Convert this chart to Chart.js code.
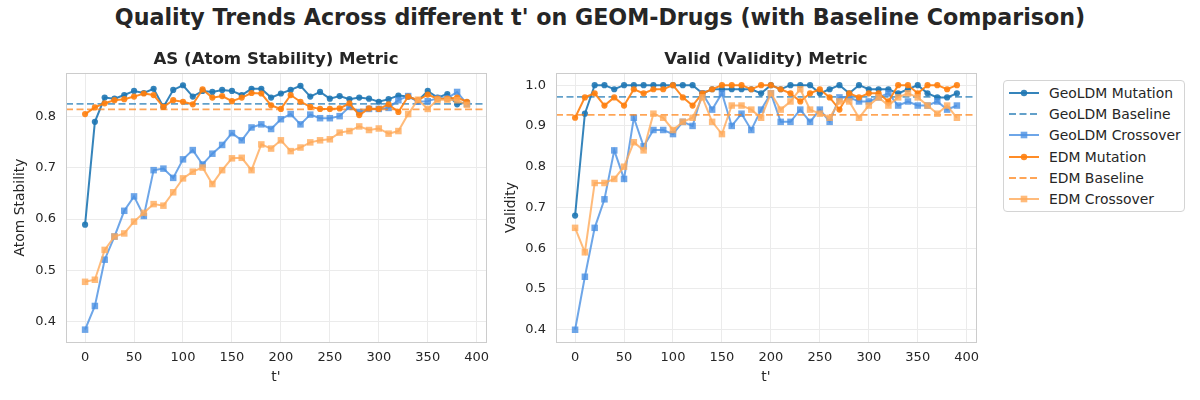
<!DOCTYPE html>
<html>
<head>
<meta charset="utf-8">
<script src="https://cdn.jsdelivr.net/npm/chart.js@4.4.1/dist/chart.umd.min.js"></script>
<style>
  body { margin: 0; background: #fff; width: 1200px; height: 400px; position: relative; overflow: hidden; font-family: 'DejaVu Sans', sans-serif; color: #262626; }
  #title { position: absolute; top: 4px; left: 0; width: 1200px; text-align: center; font: bold 22.2px 'DejaVu Sans'; }
  .box { position: absolute; top: 40px; height: 360px; }
  #legend { position: absolute; left: 1003px; top: 80px; width: 180px; padding: 1px 0; border: 1px solid #d4d4d4; border-radius: 4px; font-size: 13.9px; }
  .row { height: 21.3px; display: flex; align-items: center; }
  .row svg { margin-left: 5px; margin-right: 10px; }
</style>
</head>
<body>
<div id="title">Quality Trends Across different t' on GEOM-Drugs (with Baseline Comparison)</div>
<div class="box" style="left:0;width:500px"><canvas id="asChart"></canvas></div>
<div class="box" style="left:496px;width:494px"><canvas id="validChart"></canvas></div>
<div id="legend"></div>
<script>
// t' values
const tValues = [0, 10, 20, 30, 40, 50, 60, 70, 80, 90, 100, 110, 120, 130, 140, 150, 160, 170, 180, 190,
                 200, 210, 220, 230, 240, 250, 260, 270, 280, 290, 300, 310, 320, 330, 340, 350, 360, 370, 380, 390];

// AS (atom stability)
const geoMutAS = [0.589, 0.789, 0.836, 0.834, 0.841, 0.849, 0.845, 0.853, 0.818, 0.851, 0.860, 0.838, 0.849, 0.847, 0.851, 0.849, 0.841, 0.853, 0.853, 0.836,
                  0.844, 0.851, 0.859, 0.838, 0.847, 0.834, 0.839, 0.833, 0.836, 0.834, 0.828, 0.833, 0.840, 0.838, 0.830, 0.849, 0.836, 0.843, 0.823, 0.827];
const geoCrossAS = [0.385, 0.431, 0.521, 0.566, 0.616, 0.644, 0.606, 0.695, 0.698, 0.680, 0.716, 0.734, 0.706, 0.727, 0.744, 0.767, 0.753, 0.778, 0.784, 0.775,
                    0.794, 0.804, 0.784, 0.803, 0.796, 0.796, 0.800, 0.818, 0.808, 0.814, 0.814, 0.816, 0.831, 0.839, 0.828, 0.829, 0.835, 0.835, 0.847, 0.824];
const edmMutAS = [0.804, 0.817, 0.825, 0.831, 0.833, 0.838, 0.844, 0.841, 0.818, 0.831, 0.828, 0.823, 0.852, 0.836, 0.839, 0.829, 0.836, 0.845, 0.844, 0.821,
                  0.814, 0.841, 0.828, 0.818, 0.814, 0.814, 0.815, 0.825, 0.802, 0.815, 0.814, 0.823, 0.808, 0.838, 0.831, 0.842, 0.834, 0.834, 0.836, 0.828];
const edmCrossAS = [0.478, 0.482, 0.540, 0.566, 0.572, 0.595, 0.612, 0.629, 0.626, 0.652, 0.679, 0.692, 0.700, 0.668, 0.695, 0.718, 0.719, 0.695, 0.745, 0.737,
                    0.753, 0.732, 0.739, 0.749, 0.753, 0.755, 0.768, 0.771, 0.780, 0.773, 0.776, 0.766, 0.771, 0.804, 0.832, 0.814, 0.832, 0.832, 0.831, 0.822];
const geoBaseAS = 0.824;
const edmBaseAS = 0.813;

// Valid (validity)
const geoMutV = [0.68, 0.93, 1.0, 1.0, 0.99, 1.0, 1.0, 1.0, 1.0, 1.0, 1.0, 1.0, 1.0, 0.98, 0.99, 0.99, 0.99, 0.99, 0.99, 0.98,
                 1.0, 0.99, 1.0, 1.0, 1.0, 0.98, 0.99, 1.0, 0.98, 1.0, 0.99, 0.99, 0.99, 0.98, 0.99, 1.0, 0.98, 0.97, 0.97, 0.98];
const geoCrossV = [0.40, 0.53, 0.65, 0.72, 0.84, 0.77, 0.92, 0.85, 0.89, 0.89, 0.88, 0.91, 0.90, 0.98, 0.94, 0.98, 0.90, 0.93, 0.89, 0.94,
                   0.98, 0.91, 0.91, 0.94, 0.91, 0.94, 0.91, 0.97, 0.97, 0.96, 0.96, 0.97, 0.98, 0.95, 0.96, 0.95, 0.95, 0.96, 0.94, 0.95];
const edmMutV = [0.92, 0.97, 0.98, 0.95, 0.97, 0.95, 0.99, 0.98, 0.99, 0.99, 1.0, 0.97, 0.95, 0.98, 0.99, 1.0, 1.0, 1.0, 0.99, 1.0,
                 1.0, 0.99, 0.98, 0.96, 0.98, 0.99, 0.97, 0.94, 0.98, 0.97, 0.98, 0.98, 0.96, 1.0, 1.0, 0.98, 1.0, 1.0, 0.99, 1.0];
const edmCrossV = [0.65, 0.59, 0.76, 0.76, 0.77, 0.80, 0.86, 0.84, 0.93, 0.92, 0.89, 0.91, 0.92, 0.97, 0.91, 0.88, 0.95, 0.95, 0.94, 0.92,
                   0.98, 0.94, 0.96, 0.99, 0.94, 0.93, 0.92, 0.96, 0.96, 0.92, 0.95, 0.97, 0.95, 0.97, 0.98, 0.97, 0.95, 0.93, 0.95, 0.92];
const geoBaseV = 0.971;
const edmBaseV = 0.927;

// tick labels
const xTicks = [0, 50, 100, 150, 200, 250, 300, 350, 400];
const yTicksAS = [0.4, 0.5, 0.6, 0.7, 0.8];
const yTicksV = [0.4, 0.5, 0.6, 0.7, 0.8, 0.9, 1.0];

const X_MIN = -19.5, X_MAX = 409.5;

const styles = [
  { label: 'GeoLDM Mutation',  color: 'rgba(31,119,180,0.9)',  marker: 'circle', dash: [] },
  { label: 'GeoLDM Baseline',  color: 'rgba(31,119,180,0.7)',  marker: null,     dash: [7, 3.5] },
  { label: 'GeoLDM Crossover', color: 'rgba(74,144,226,0.8)',  marker: 'rect',   dash: [] },
  { label: 'EDM Mutation',     color: 'rgba(255,127,14,0.9)',  marker: 'circle', dash: [] },
  { label: 'EDM Baseline',     color: 'rgba(255,127,14,0.7)',  marker: null,     dash: [7, 3.5] },
  { label: 'EDM Crossover',    color: 'rgba(255,170,90,0.8)',  marker: 'rect',   dash: [] }
];

function pts(vals) { return tValues.map((t, i) => ({ x: t, y: vals[i] })); }
function hline(v) { return [{ x: X_MIN, y: v }, { x: X_MAX, y: v }]; }

function makeDatasets(series) {
  return series.map((data, i) => {
    const s = styles[i];
    return {
      label: s.label,
      data: data,
      borderColor: s.color,
      backgroundColor: s.color,
      borderWidth: s.marker ? 2 : 1.8,
      borderDash: s.dash,
      pointStyle: s.marker || 'circle',
      pointRadius: s.marker === 'rect' ? 4.6 : (s.marker ? 3.1 : 0),
      pointBorderWidth: 0,
      tension: 0,
      order: series.length - i
    };
  });
}

const frame = {
  id: 'frame',
  afterDraw(chart) {
    const a = chart.chartArea, c = chart.ctx;
    c.save();
    c.strokeStyle = '#cccccc';
    c.lineWidth = 1;
    c.strokeRect(Math.round(a.left) + 0.5, Math.round(a.top) + 0.5, Math.round(a.right - a.left), Math.round(a.bottom - a.top));
    c.restore();
  }
};

function makeChart(id, title, yLabel, series, yMin, yMax, yTicks, yWidth, yTitlePad) {
  return new Chart(document.getElementById(id), {
    type: 'line',
    data: { datasets: makeDatasets(series) },
    plugins: [frame],
    options: {
      responsive: true,
      maintainAspectRatio: false,
      animation: false,
      layout: { padding: { left: 0, right: 14, top: 0, bottom: 0 } },
      plugins: {
        legend: { display: false },
        tooltip: { enabled: false },
        title: {
          display: true, text: title, color: '#262626', fullSize: false,
          font: { family: 'DejaVu Sans', size: 16.6, weight: 'bold' },
          padding: { top: 10, bottom: 3 }
        }
      },
      scales: {
        x: {
          type: 'linear', min: X_MIN, max: X_MAX,
          afterBuildTicks: s => { s.ticks = xTicks.map(v => ({ value: v })); },
          afterFit: s => { s.height = 58; s.paddingLeft = 0; s.paddingRight = 0; },
          grid: { color: '#ebebeb', drawTicks: false },
          border: { display: false },
          ticks: { color: '#262626', padding: 8, font: { family: 'DejaVu Sans', size: 13 }, maxRotation: 0 },
          title: { display: true, text: "t'", color: '#262626', font: { family: 'DejaVu Sans', size: 13.9 }, padding: { top: 0, bottom: 14.7 } }
        },
        y: {
          min: yMin, max: yMax,
          afterBuildTicks: s => { s.ticks = yTicks.map(v => ({ value: v })); },
          afterFit: s => { s.width = yWidth; },
          grid: { color: '#ebebeb', drawTicks: false },
          border: { display: false },
          ticks: { color: '#262626', padding: 10, font: { family: 'DejaVu Sans', size: 13 }, callback: v => v.toFixed(1) },
          title: { display: true, text: yLabel, color: '#262626', font: { family: 'DejaVu Sans', size: 13.9 }, padding: { top: yTitlePad, bottom: 0 } }
        }
      }
    }
  });
}

makeChart('asChart', 'AS (Atom Stability) Metric', 'Atom Stability',
  [pts(geoMutAS), hline(geoBaseAS), pts(geoCrossAS), pts(edmMutAS), hline(edmBaseAS), pts(edmCrossAS)],
  0.361, 0.884, yTicksAS, 66, 11.7);
makeChart('validChart', 'Valid (Validity) Metric', 'Validity',
  [pts(geoMutV), hline(geoBaseV), pts(geoCrossV), pts(edmMutV), hline(edmBaseV), pts(edmCrossV)],
  0.37, 1.03, yTicksV, 60, 6.7);

// legend
const legend = document.getElementById('legend');
styles.forEach(s => {
  let mark = '';
  if (s.marker === 'circle') mark = `<circle cx="15" cy="6" r="3.2" fill="${s.color}"/>`;
  if (s.marker === 'rect') mark = `<rect x="11.7" y="2.7" width="6.6" height="6.6" fill="${s.color}"/>`;
  const dash = s.dash.length ? `stroke-dasharray="${s.dash.join(' ')}"` : '';
  legend.insertAdjacentHTML('beforeend',
    `<div class="row"><svg width="30" height="12"><line x1="0" y1="6" x2="30" y2="6" stroke="${s.color}" stroke-width="2" ${dash}/>${mark}</svg><span>${s.label}</span></div>`);
});
</script>
</body>
</html>
